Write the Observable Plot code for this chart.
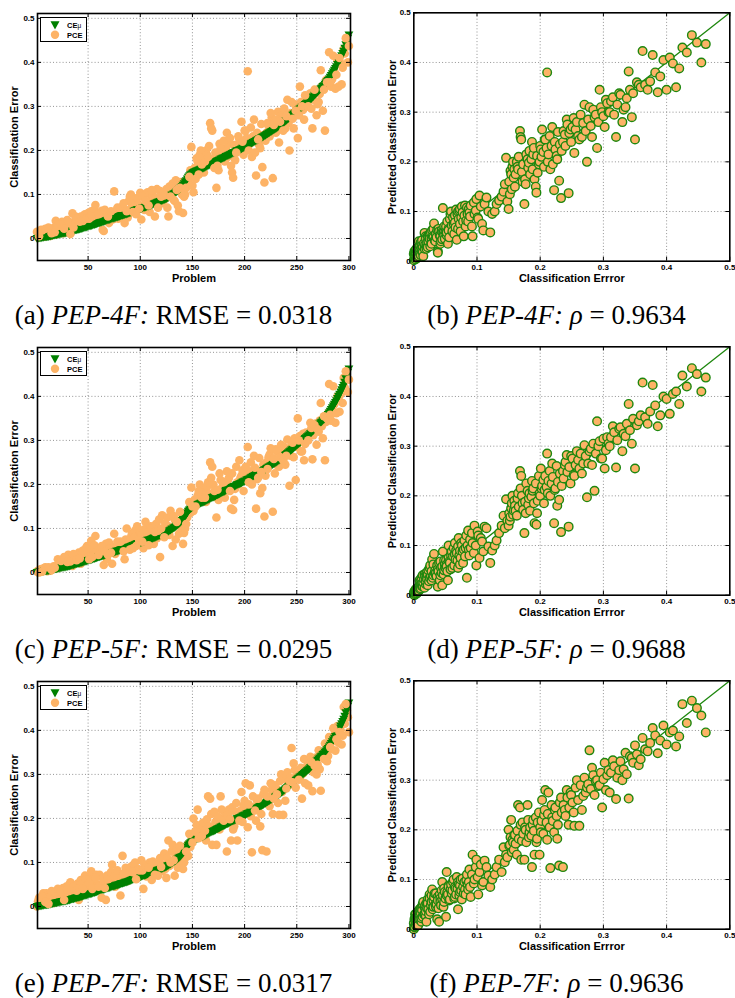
<!DOCTYPE html>
<html><head><meta charset="utf-8">
<script src="https://cdn.jsdelivr.net/npm/d3@7"></script>
<script src="https://cdn.jsdelivr.net/npm/@observablehq/plot@0.6"></script>
<style>
body{margin:0;background:#fff;width:735px;height:998px;position:relative;overflow:hidden}
.panel{position:absolute}
.legend{position:absolute;width:45px;height:23px;border:1.4px solid #000;background:#fff}
.cap{position:absolute;font-family:"Liberation Serif","DejaVu Serif",serif;font-size:27px;line-height:25px;white-space:nowrap;transform:translateX(-50%)}
</style></head><body>
<script>
// CE_mu for problems 1..300, sorted ascending (shared by all rows)
const ceMu = [
0.000,0.000,0.001,0.001,0.001,0.002,0.002,0.003,0.003,0.003,0.004,0.004,0.005,0.005,0.006,0.006,0.007,0.007,0.008,0.008,
0.009,0.009,0.010,0.010,0.011,0.011,0.012,0.012,0.013,0.013,0.014,0.014,0.015,0.016,0.017,0.017,0.018,0.019,0.019,0.020,
0.020,0.021,0.022,0.022,0.023,0.024,0.025,0.025,0.026,0.027,0.028,0.028,0.029,0.030,0.031,0.031,0.032,0.033,0.034,0.035,
0.035,0.036,0.037,0.038,0.038,0.039,0.040,0.041,0.042,0.042,0.043,0.044,0.045,0.045,0.046,0.047,0.048,0.048,0.049,0.050,
0.051,0.052,0.052,0.053,0.054,0.055,0.055,0.056,0.057,0.058,0.059,0.060,0.061,0.062,0.063,0.064,0.065,0.065,0.066,0.067,
0.068,0.069,0.070,0.070,0.071,0.072,0.073,0.073,0.074,0.075,0.076,0.077,0.078,0.079,0.080,0.081,0.082,0.083,0.084,0.085,
0.086,0.087,0.088,0.089,0.090,0.092,0.093,0.095,0.096,0.098,0.099,0.101,0.102,0.104,0.106,0.108,0.110,0.112,0.115,0.118,
0.121,0.124,0.128,0.131,0.135,0.139,0.142,0.144,0.146,0.148,0.150,0.151,0.152,0.153,0.154,0.155,0.156,0.157,0.158,0.159,
0.160,0.161,0.163,0.164,0.165,0.166,0.168,0.169,0.170,0.171,0.172,0.173,0.175,0.176,0.177,0.178,0.180,0.181,0.182,0.183,
0.184,0.186,0.187,0.188,0.189,0.190,0.191,0.193,0.194,0.195,0.196,0.198,0.199,0.200,0.201,0.202,0.203,0.205,0.206,0.207,
0.208,0.210,0.211,0.212,0.213,0.215,0.216,0.218,0.219,0.220,0.222,0.223,0.224,0.226,0.227,0.228,0.230,0.231,0.233,0.234,
0.236,0.237,0.239,0.240,0.242,0.243,0.245,0.246,0.248,0.249,0.251,0.253,0.254,0.256,0.258,0.260,0.262,0.264,0.266,0.268,
0.270,0.272,0.274,0.276,0.278,0.280,0.282,0.284,0.286,0.288,0.290,0.292,0.294,0.296,0.298,0.300,0.302,0.304,0.306,0.308,
0.310,0.312,0.315,0.317,0.320,0.322,0.325,0.327,0.330,0.332,0.335,0.337,0.340,0.342,0.345,0.347,0.350,0.353,0.356,0.359,
0.362,0.366,0.370,0.374,0.378,0.382,0.386,0.390,0.395,0.400,0.405,0.410,0.415,0.420,0.425,0.432,0.440,0.448,0.455,0.462];

// PCE per problem, PEP-4F
const pce4F = [
0.015,0.002,0.005,0.012,0.020,0.018,0.010,0.004,0.022,0.015,0.008,0.025,0.018,0.006,0.012,0.020,0.024,0.014,0.040,0.010,
0.030,0.020,0.015,0.032,0.038,0.012,0.022,0.026,0.035,0.042,0.028,0.018,0.010,0.036,0.057,0.025,0.033,0.050,0.045,0.030,
0.025,0.038,0.050,0.028,0.040,0.052,0.055,0.045,0.030,0.058,0.045,0.035,0.062,0.050,0.048,0.065,0.076,0.042,0.040,0.055,
0.055,0.048,0.063,0.020,0.017,0.065,0.060,0.052,0.050,0.035,0.040,0.062,0.058,0.044,0.107,0.058,0.052,0.070,0.045,0.060,
0.070,0.052,0.058,0.080,0.035,0.065,0.062,0.048,0.085,0.095,0.100,0.072,0.060,0.088,0.075,0.055,0.092,0.078,0.068,0.104,
0.043,0.095,0.100,0.065,0.085,0.102,0.105,0.075,0.060,0.088,0.110,0.098,0.080,0.050,0.092,0.112,0.070,0.082,0.108,0.095,
0.080,0.105,0.098,0.090,0.112,0.070,0.050,0.118,0.095,0.102,0.125,0.088,0.085,0.132,0.110,0.075,0.062,0.115,0.128,0.100,
0.058,0.095,0.100,0.115,0.122,0.130,0.140,0.155,0.208,0.120,0.105,0.160,0.135,0.182,0.175,0.145,0.190,0.200,0.168,0.185,
0.150,0.175,0.200,0.190,0.185,0.210,0.262,0.250,0.245,0.180,0.160,0.195,0.115,0.165,0.155,0.215,0.205,0.188,0.198,0.222,
0.175,0.205,0.240,0.185,0.215,0.228,0.165,0.150,0.138,0.212,0.178,0.195,0.200,0.232,0.225,0.210,0.265,0.220,0.190,0.245,
0.245,0.228,0.380,0.200,0.215,0.252,0.185,0.232,0.270,0.195,0.143,0.240,0.225,0.212,0.205,0.260,0.162,0.235,0.127,0.222,
0.240,0.262,0.255,0.232,0.285,0.275,0.137,0.258,0.265,0.240,0.270,0.288,0.218,0.265,0.280,0.252,0.245,0.295,0.250,0.278,
0.315,0.262,0.200,0.285,0.310,0.272,0.250,0.305,0.290,0.295,0.228,0.280,0.345,0.310,0.300,0.292,0.270,0.325,0.318,0.300,
0.300,0.322,0.330,0.295,0.250,0.315,0.338,0.335,0.280,0.305,0.310,0.328,0.382,0.345,0.290,0.338,0.245,0.360,0.355,0.350,
0.423,0.355,0.345,0.362,0.415,0.380,0.340,0.372,0.405,0.345,0.410,0.398,0.350,0.388,0.430,0.420,0.455,0.440,0.400,0.437];

// PCE per problem, PEP-5F
const pce5F = [
0.002,0.004,0.000,0.006,0.008,0.002,0.005,0.010,0.012,0.007,0.003,0.012,0.010,0.004,0.006,0.009,0.014,0.011,0.009,0.015,
0.030,0.020,0.012,0.026,0.022,0.014,0.035,0.030,0.018,0.024,0.040,0.018,0.025,0.032,0.015,0.042,0.038,0.022,0.028,0.035,
0.045,0.032,0.020,0.042,0.050,0.028,0.035,0.055,0.060,0.038,0.030,0.048,0.072,0.035,0.040,0.062,0.083,0.045,0.050,0.040,
0.045,0.038,0.060,0.052,0.017,0.048,0.065,0.030,0.040,0.068,0.055,0.045,0.020,0.058,0.088,0.042,0.050,0.070,0.062,0.055,
0.070,0.062,0.058,0.048,0.030,0.075,0.100,0.068,0.065,0.052,0.080,0.088,0.055,0.078,0.095,0.060,0.105,0.082,0.072,0.090,
0.085,0.070,0.055,0.098,0.115,0.080,0.090,0.062,0.075,0.105,0.100,0.088,0.065,0.092,0.110,0.078,0.095,0.120,0.035,0.100,
0.130,0.092,0.080,0.112,0.095,0.125,0.105,0.085,0.140,0.100,0.060,0.128,0.120,0.075,0.115,0.108,0.088,0.138,0.135,0.098,
0.065,0.090,0.100,0.110,0.125,0.140,0.160,0.135,0.193,0.150,0.140,0.165,0.150,0.158,0.175,0.185,0.200,0.162,0.170,0.190,
0.180,0.170,0.160,0.195,0.205,0.178,0.250,0.215,0.240,0.200,0.185,0.172,0.125,0.188,0.165,0.225,0.210,0.182,0.195,0.205,
0.170,0.198,0.230,0.210,0.215,0.185,0.145,0.225,0.142,0.165,0.190,0.240,0.205,0.200,0.255,0.215,0.220,0.232,0.185,0.212,
0.240,0.218,0.285,0.205,0.230,0.250,0.200,0.225,0.265,0.238,0.145,0.212,0.215,0.260,0.180,0.228,0.192,0.245,0.127,0.220,
0.250,0.235,0.262,0.268,0.282,0.248,0.138,0.258,0.225,0.280,0.275,0.242,0.240,0.262,0.290,0.272,0.255,0.285,0.245,0.265,
0.302,0.280,0.197,0.265,0.290,0.295,0.262,0.305,0.210,0.285,0.350,0.300,0.310,0.275,0.275,0.315,0.255,0.292,0.318,0.305,
0.300,0.318,0.340,0.328,0.257,0.312,0.335,0.338,0.290,0.325,0.320,0.345,0.385,0.332,0.305,0.355,0.255,0.342,0.350,0.362,
0.428,0.358,0.345,0.370,0.423,0.382,0.340,0.362,0.400,0.395,0.365,0.405,0.410,0.385,0.442,0.420,0.457,0.445,0.410,0.438];

// PCE per problem, PEP-7F
const pce7F = [
0.000,0.012,0.020,0.004,0.005,0.022,0.030,0.018,0.010,0.030,0.025,0.006,0.015,0.024,0.035,0.014,0.008,0.032,0.028,0.020,
0.040,0.028,0.020,0.035,0.032,0.042,0.015,0.022,0.045,0.038,0.025,0.050,0.055,0.030,0.030,0.044,0.048,0.026,0.036,0.052,
0.015,0.042,0.060,0.052,0.040,0.030,0.070,0.062,0.035,0.048,0.055,0.068,0.080,0.040,0.045,0.058,0.065,0.072,0.050,0.045,
0.072,0.050,0.020,0.065,0.058,0.042,0.015,0.070,0.062,0.055,0.048,0.078,0.095,0.060,0.068,0.045,0.055,0.082,0.075,0.062,
0.025,0.068,0.115,0.075,0.070,0.088,0.085,0.058,0.060,0.080,0.090,0.072,0.078,0.095,0.100,0.062,0.065,0.085,0.082,0.070,
0.105,0.082,0.040,0.095,0.090,0.068,0.075,0.088,0.100,0.078,0.060,0.102,0.085,0.072,0.095,0.080,0.070,0.098,0.110,0.090,
0.080,0.095,0.120,0.085,0.065,0.110,0.150,0.092,0.100,0.125,0.140,0.105,0.070,0.115,0.130,0.088,0.095,0.138,0.125,0.108,
0.085,0.100,0.110,0.125,0.140,0.115,0.165,0.135,0.150,0.145,0.200,0.168,0.170,0.185,0.220,0.155,0.180,0.175,0.160,0.190,
0.190,0.172,0.150,0.198,0.250,0.182,0.245,0.210,0.140,0.178,0.215,0.192,0.140,0.205,0.200,0.175,0.250,0.220,0.185,0.195,
0.205,0.188,0.125,0.210,0.220,0.198,0.150,0.225,0.175,0.182,0.215,0.235,0.150,0.205,0.195,0.218,0.260,0.192,0.230,0.240,
0.280,0.215,0.180,0.232,0.275,0.205,0.123,0.250,0.225,0.218,0.195,0.240,0.245,0.228,0.182,0.210,0.128,0.255,0.265,0.235,
0.125,0.250,0.240,0.228,0.280,0.265,0.210,0.245,0.275,0.270,0.255,0.235,0.208,0.285,0.300,0.260,0.208,0.290,0.240,0.268,
0.305,0.275,0.285,0.292,0.360,0.282,0.325,0.310,0.270,0.298,0.300,0.288,0.290,0.315,0.245,0.302,0.335,0.280,0.310,0.320,
0.275,0.315,0.340,0.328,0.262,0.305,0.320,0.338,0.300,0.322,0.355,0.312,0.263,0.348,0.345,0.335,0.370,0.352,0.330,0.342,
0.385,0.362,0.358,0.375,0.405,0.390,0.354,0.380,0.410,0.372,0.396,0.400,0.368,0.388,0.453,0.415,0.460,0.445,0.430,0.396];

const problemTicks = [50, 100, 150, 200, 250, 300];
const errorTicks = [0, 0.1, 0.2, 0.3, 0.4, 0.5];
const diagonal = [0, 0.5];
const rowPCE = [pce4F, pce5F, pce7F];
const models = ["PEP-4F:", "PEP-5F:", "PEP-7F:"];
const leftLabels = ["(a)", "(c)", "(e)"];
const rightLabels = ["(b)", "(d)", "(f)"];
const rmseValues = ["0.0318", "0.0295", "0.0317"];
const rhoValues = ["0.9634", "0.9688", "0.9636"];
const legendNames = ["CE", "PCE"];

const GREEN = "#008000", ORANGE = "#FDB366", EDGE = "#1E870E";
const problems = ceMu.map((_, i) => i + 1);
const fmt = d => d === 0 ? "0" : d.toFixed(1);
const triDown = {draw(ctx, size) {
  const r = Math.sqrt(size / Math.PI);
  ctx.moveTo(-r, -r * 0.8); ctx.lineTo(r, -r * 0.8); ctx.lineTo(0, r * 0.95); ctx.closePath();
}};
const baseStyle = {fontFamily: "'Liberation Sans', Arial, sans-serif", fontSize: "8px", fontWeight: "bold", color: "#000", background: "transparent", overflow: "visible"};
const gridStyle = {stroke: "#888", strokeOpacity: 1, strokeDasharray: "1,2.2", strokeWidth: 0.9};

function leftPanel(pce) {
  const data = ceMu.map((ce, i) => ({problem: problems[i], ce, pce: pce[i]}));
  // drawing order: most PCE markers below the CE markers, every third one above
  const under = data.filter(d => d.problem % 3 !== 0);
  const over = data.filter(d => d.problem % 3 === 0);
  const W = 360, H = 290, mL = 37, mR = 10, mT = 13, mB = 30;
  const fh = H - mT - mB, fw = W - mL - mR;
  return Plot.plot({
    width: W, height: H, marginLeft: mL, marginRight: mR, marginTop: mT, marginBottom: mB,
    style: baseStyle,
    x: {domain: [1.5, 301.5]},
    y: {domain: [-0.05, 0.511]},
    marks: [
      Plot.gridX(problemTicks.slice(0, -1), gridStyle),
      Plot.gridY(errorTicks, gridStyle),
      Plot.dot(under, {x: "problem", y: "pce", r: 4.3, fill: ORANGE}),
      Plot.dot(data, {x: "problem", y: "ce", symbol: triDown, r: 4.4, fill: GREEN}),
      Plot.dot(over, {x: "problem", y: "pce", r: 4.3, fill: ORANGE}),
      Plot.tickX(problemTicks, {x: d => d, insetTop: fh - 4, stroke: "#000"}),
      Plot.tickX(problemTicks, {x: d => d, insetBottom: fh - 4, stroke: "#000"}),
      Plot.tickY(errorTicks, {y: d => d, insetRight: fw - 4, stroke: "#000"}),
      Plot.tickY(errorTicks, {y: d => d, insetLeft: fw - 4, stroke: "#000"}),
      Plot.axisX(problemTicks, {tickSize: 0, tickPadding: 4, label: null}),
      Plot.axisY(errorTicks, {tickSize: 0, tickPadding: 3, tickFormat: fmt, label: null}),
      Plot.text(["Problem"], {text: d => d, frameAnchor: "bottom", dy: 17.7, lineAnchor: "middle", fontSize: 11}),
      Plot.text(["Classification Error"], {text: d => d, frameAnchor: "left", textAnchor: "middle", lineAnchor: "middle", dx: -23, rotate: -90, fontSize: 11}),
      Plot.frame({stroke: "#000", strokeWidth: 1.6})
    ]
  });
}

function rightPanel(pce) {
  const data = ceMu.map((ce, i) => ({ce, pce: pce[i]}));
  const W = 365, H = 290, mL = 43.3, mR = 5.7, mT = 12.3, mB = 29.3;
  const fh = H - mT - mB, fw = W - mL - mR;
  return Plot.plot({
    width: W, height: H, marginLeft: mL, marginRight: mR, marginTop: mT, marginBottom: mB,
    style: baseStyle,
    x: {domain: [0, 0.5]},
    y: {domain: [0, 0.5]},
    marks: [
      Plot.gridX(errorTicks.slice(1, -1), gridStyle),
      Plot.gridY(errorTicks.slice(1, -1), gridStyle),
      Plot.line(diagonal, {x: d => d, y: d => d, stroke: EDGE, strokeWidth: 1.3}),
      Plot.dot(data, {x: "ce", y: "pce", r: 4.3, fill: ORANGE, stroke: EDGE, strokeWidth: 1.4}),
      Plot.tickX(errorTicks, {x: d => d, insetTop: fh - 4, stroke: "#000"}),
      Plot.tickX(errorTicks, {x: d => d, insetBottom: fh - 4, stroke: "#000"}),
      Plot.tickY(errorTicks, {y: d => d, insetRight: fw - 4, stroke: "#000"}),
      Plot.tickY(errorTicks, {y: d => d, insetLeft: fw - 4, stroke: "#000"}),
      Plot.axisX(errorTicks, {tickSize: 0, tickPadding: 3, tickFormat: fmt, label: null}),
      Plot.axisY(errorTicks, {tickSize: 0, tickPadding: 3, tickFormat: fmt, label: null}),
      Plot.text(["Classification Errror"], {text: d => d, frameAnchor: "bottom", dy: 17.4, lineAnchor: "middle", fontSize: 11}),
      Plot.text(["Predicted Classification Error"], {text: d => d, frameAnchor: "left", textAnchor: "middle", lineAnchor: "middle", dx: -21.6, rotate: -90, fontSize: 11}),
      Plot.frame({stroke: "#000", strokeWidth: 1.6})
    ]
  });
}

function legendBox(top) {
  const div = document.createElement("div");
  div.className = "legend";
  div.style.left = "40px"; div.style.top = top + "px";
  div.innerHTML = `<svg width="45" height="23" style="position:absolute;left:0;top:0;overflow:visible">
    <path d="M9.5,3.3 L18.5,3.3 L14,11.5 Z" fill="${GREEN}"/>
    <circle cx="14" cy="16.8" r="4.2" fill="${ORANGE}"/>
    <text x="26" y="9.8" font-family="Liberation Sans, Arial, sans-serif" font-weight="bold" font-size="7.5">${legendNames[0]}<tspan font-size="6.5" font-weight="normal">μ</tspan></text>
    <text x="26" y="19.8" font-family="Liberation Sans, Arial, sans-serif" font-weight="bold" font-size="7.5">${legendNames[1]}</text>
  </svg>`;
  return div;
}

const rowOffsets = [0, 334, 668];
rowPCE.forEach((pce, r) => {
  const top = rowOffsets[r];
  const L = document.createElement("div"); L.className = "panel"; L.style.left = "0px"; L.style.top = top + "px";
  L.appendChild(leftPanel(pce)); document.body.appendChild(L);
  const R = document.createElement("div"); R.className = "panel"; R.style.left = "370px"; R.style.top = top + "px";
  R.appendChild(rightPanel(pce)); document.body.appendChild(R);
  document.body.appendChild(legendBox(top + 16.5));
  const c1 = document.createElement("div"); c1.className = "cap";
  c1.style.left = "173.5px"; c1.style.top = (top + 303) + "px";
  c1.innerHTML = `${leftLabels[r]} <i>${models[r]}</i> RMSE = ${rmseValues[r]}`;
  document.body.appendChild(c1);
  const c2 = document.createElement("div"); c2.className = "cap";
  c2.style.left = "556.5px"; c2.style.top = (top + 303) + "px";
  c2.innerHTML = `${rightLabels[r]} <i>${models[r]}</i> <i>ρ</i> = ${rhoValues[r]}`;
  document.body.appendChild(c2);
});
</script>
</body></html>
